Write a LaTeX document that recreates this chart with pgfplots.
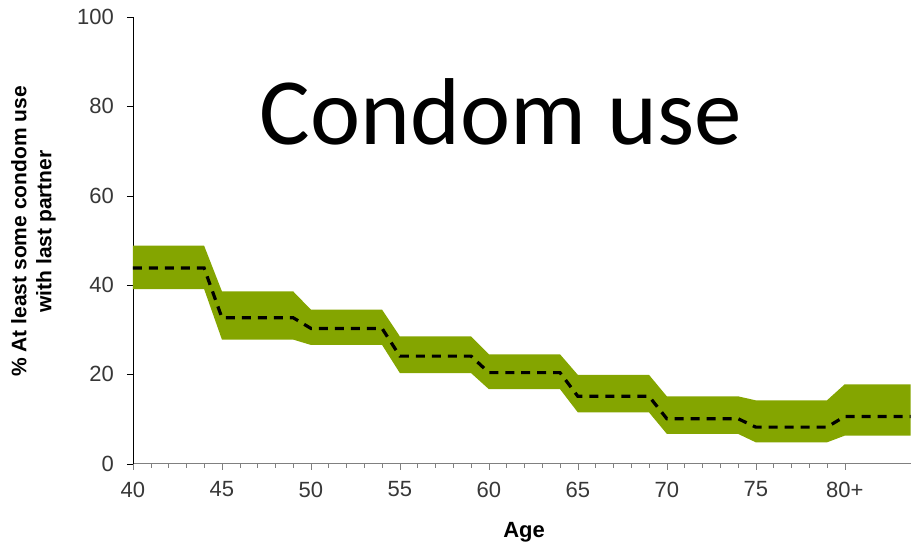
\documentclass[border=0pt]{standalone}
\usepackage{fontspec}
\setmainfont{Liberation Sans}
\newfontfamily\carlito{Carlito}
\usepackage{pgfplots}
\usepackage{pgfplotstable}
\pgfplotsset{compat=1.18}
\usepgfplotslibrary{fillbetween}

\definecolor{bandgreen}{RGB}{132,165,0}
\definecolor{ticktext}{RGB}{55,55,55}

% age group steps: lower bound, estimate, upper bound
\pgfplotstableread{
age lo   mid  hi
40  39.1 43.8 48.8
44  39.1 43.8 48.8
45  27.8 32.7 38.6
49  27.8 32.7 38.6
50  26.6 30.3 34.5
54  26.6 30.3 34.5
55  20.3 24.1 28.5
59  20.3 24.1 28.5
60  16.7 20.4 24.5
64  16.7 20.4 24.5
65  11.5 15.1 19.9
69  11.5 15.1 19.9
70  6.7  10.1 15.1
74  6.7  10.1 15.1
75  4.8  8.2  14.2
79  4.8  8.2  14.2
80  6.3  10.6 17.8
85  6.3  10.6 17.8
}\condom

\begin{document}
\begin{tikzpicture}
\begin{axis}[
    at={(0,0)}, anchor=south west,
    scale only axis,
    width=389pt, height=223.5pt,
    xmin=40, xmax=83.7,
    ymin=0, ymax=100,
    axis x line*=bottom,
    axis y line*=left,
    x axis line style={gray},
    y axis line style={black},
    xtick={40,45,...,80},
    xticklabels={40,45,50,55,60,65,70,75,80+},
    minor x tick num=4,
    ytick={0,20,...,100},
    tick align=outside,
    major tick length=3pt,
    minor tick length=2pt,
    x tick style={gray},
    y tick style={black},
    /pgf/number format/assume math mode=true,
    ticklabel style={font=\fontsize{11}{13}\selectfont, text=ticktext},
    yticklabel style={xshift=-3pt},
    xticklabel style={yshift=-2.5pt},
    ylabel={\% At least some condom use\\with last partner},
    ylabel style={align=center, font=\bfseries\fontsize{10.5}{12.5}\selectfont,
        at={(axis description cs:-0.128,0.52)}, anchor=center},
    xlabel={Age},
    xlabel style={font=\bfseries\fontsize{11}{13}\selectfont,
        at={(axis description cs:0.503,-0.164)}, anchor=base},
]
\addplot[draw=none, name path=upper] table[x=age, y=hi] {\condom};
\addplot[draw=none, name path=lower] table[x=age, y=lo] {\condom};
\addplot[bandgreen, draw=none] fill between[of=upper and lower];
\addplot[black, line width=1.6pt, dash pattern=on 4.5pt off 3.5pt] table[x=age, y=mid] {\condom};
\node[font=\carlito\fontsize{47.5}{50}\selectfont, anchor=base]
    at (axis description cs:0.473,0.7137) {Condom use};
\end{axis}
\path (-66.5pt,-39pt) rectangle (389pt,232pt);
\end{tikzpicture}
\end{document}
